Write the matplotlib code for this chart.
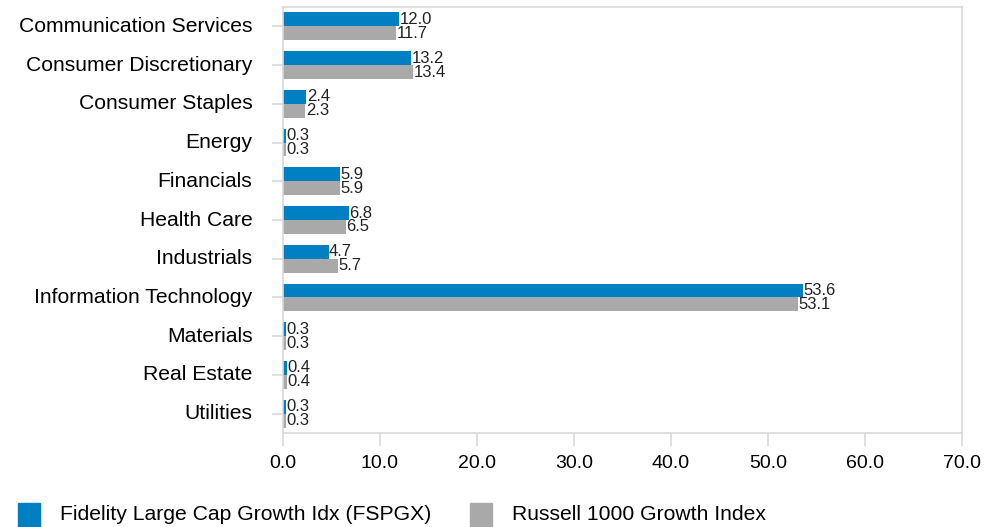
import matplotlib
matplotlib.use("Agg")
import matplotlib.pyplot as plt
import numpy as np
from matplotlib.patches import Rectangle

plt.rcParams['font.family'] = ['Liberation Sans', 'DejaVu Sans']

categories = ["Communication Services", "Consumer Discretionary", "Consumer Staples",
              "Energy", "Financials", "Health Care", "Industrials",
              "Information Technology", "Materials", "Real Estate", "Utilities"]
fund = [12.0, 13.2, 2.4, 0.3, 5.9, 6.8, 4.7, 53.6, 0.3, 0.4, 0.3]
bench = [11.7, 13.4, 2.3, 0.3, 5.9, 6.5, 5.7, 53.1, 0.3, 0.4, 0.3]
series_names = ["Fidelity Large Cap Growth Idx (FSPGX)", "Russell 1000 Growth Index"]
xticks = [0, 10, 20, 30, 40, 50, 60, 70]

blue = "#0080C3"
gray = "#A9A9A9"
edge = "#D9D9D9"

fig = plt.figure(figsize=(9.84, 5.27), dpi=100)
ax = fig.add_axes([283/984, 1-433/527, (962-283)/984, (433-7)/527])

y = np.arange(len(categories))
h = 0.36
ax.barh(y - h/2, fund, height=h, color=blue)
ax.barh(y + h/2, bench, height=h, color=gray)
for yi, v in zip(y, fund):
    ax.text(v + 0.05, yi - h/2, f"{v:.1f}", va="center", ha="left", fontsize=12, color="#222222")
for yi, v in zip(y, bench):
    ax.text(v + 0.05, yi + h/2, f"{v:.1f}", va="center", ha="left", fontsize=12, color="#222222")

ax.set_xlim(0, 70)
ax.set_ylim(len(categories) - 0.5, -0.5)
ax.set_yticks(y)
ax.set_yticklabels(categories, fontsize=15.2, va="center")
for lbl in ax.get_yticklabels():
    lbl.set_y(lbl.get_position()[1])
ax.set_xticks(xticks)
ax.set_xticklabels([f"{t:.1f}" for t in xticks], fontsize=14)
for s in ax.spines.values():
    s.set_color(edge)
    s.set_linewidth(1.2)
ax.tick_params(axis="both", colors=edge, labelcolor="#000000", width=1.2)
ax.tick_params(axis="x", length=9, pad=7)
ax.tick_params(axis="y", length=8, pad=14)

# legend
fig.patches.append(Rectangle((18/984, 0), 22/984, 24/527, transform=fig.transFigure, color=blue))
fig.text(60/984, 1-515/527, series_names[0], fontsize=15.2, va="center", ha="left")
fig.patches.append(Rectangle((470/984, 0), 22/984, 24/527, transform=fig.transFigure, color=gray))
fig.text(512/984, 1-515/527, series_names[1], fontsize=15.2, va="center", ha="left")

fig.savefig("out.png", dpi=100)
